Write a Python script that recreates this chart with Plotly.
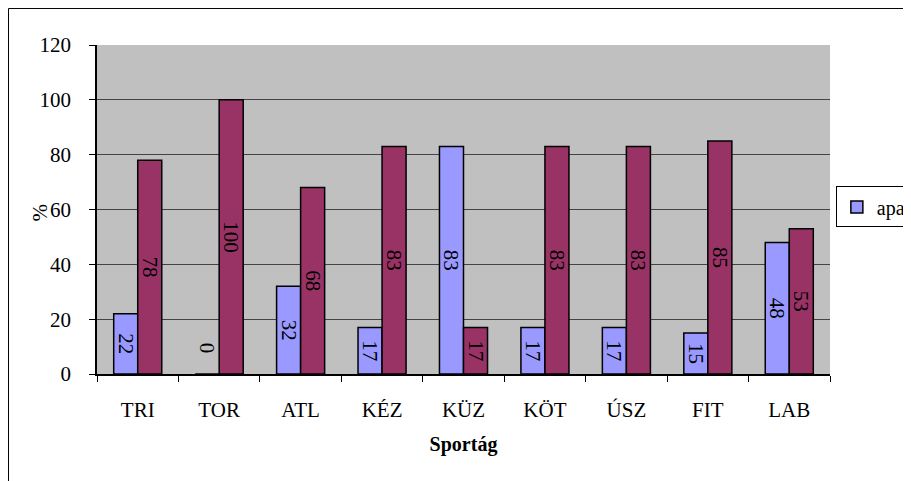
import plotly.graph_objects as go

# Sportágak és százalékok
sportagak = ["TRI", "TOR", "ATL", "KÉZ", "KÜZ", "KÖT", "ÚSZ", "FIT", "LAB"]
apa = [22, 0, 32, 17, 83, 17, 17, 15, 48]
anya = [78, 100, 68, 83, 17, 83, 83, 85, 53]
y_ticks = [0, 20, 40, 60, 80, 100, 120]

SERIF = "Liberation Serif"
FS = 21

fig = go.Figure()

fig.add_trace(
    go.Bar(
        x=sportagak,
        y=apa,
        name="apa",
        marker=dict(color="#9999FF", line=dict(color="black", width=1.5)),
        text=["" if v == 0 else str(v) for v in apa],
        textposition="inside",
        insidetextanchor="middle",
        textangle=90,
        textfont=dict(family=SERIF, size=FS, color="black"),
    )
)
fig.add_trace(
    go.Bar(
        x=sportagak,
        y=anya,
        name="anya",
        showlegend=False,
        marker=dict(color="#993366", line=dict(color="black", width=1.5)),
        text=[str(v) for v in anya],
        textposition="inside",
        insidetextanchor="middle",
        textangle=90,
        textfont=dict(family=SERIF, size=FS, color="black"),
    )
)

# nulla értékű oszlop felirata
for kat, v in zip(sportagak, apa):
    if v == 0:
        fig.add_annotation(
            x=kat,
            y=v,
            xshift=-12,
            yshift=26,
            text=str(v),
            textangle=90,
            showarrow=False,
            font=dict(family=SERIF, size=FS, color="black"),
        )

# y tengely címe
fig.add_annotation(
    text="%",
    xref="paper",
    yref="paper",
    x=-0.078,
    y=0.49,
    xanchor="center",
    yanchor="middle",
    textangle=-90,
    showarrow=False,
    font=dict(family=SERIF, size=FS, color="black"),
)

# külső keret
fig.add_shape(
    type="rect",
    xref="paper",
    yref="paper",
    x0=-0.1207,
    x1=1.3,
    y0=-0.6,
    y1=1.111,
    line=dict(color="black", width=1),
    fillcolor="rgba(0,0,0,0)",
    layer="below",
)

fig.update_layout(
    width=903,
    height=473,
    margin=dict(l=89, r=81, t=37, b=107, autoexpand=False),
    paper_bgcolor="white",
    plot_bgcolor="#C0C0C0",
    barmode="group",
    bargap=0.41,
    bargroupgap=0,
    uniformtext=dict(minsize=FS, mode="show"),
    font=dict(family=SERIF, size=FS, color="black"),
    xaxis=dict(
        title=dict(text="<b>Sportág</b>", font=dict(size=20), standoff=16),
        tickson="boundaries",
        ticks="outside",
        ticklen=6,
        tickcolor="black",
        ticklabelstandoff=16,
        showline=True,
        linecolor="black",
        linewidth=1.5,
        tickfont=dict(size=FS),
    ),
    yaxis=dict(
        range=[0, 120],
        tickvals=y_ticks,
        ticks="outside",
        ticklen=6,
        tickcolor="black",
        ticklabelstandoff=14,
        showline=True,
        linecolor="black",
        linewidth=1.5,
        showgrid=True,
        gridcolor="#444444",
        gridwidth=1.2,
        zeroline=False,
        tickfont=dict(size=FS),
    ),
    legend=dict(
        x=1.008,
        y=0.57,
        xanchor="left",
        yanchor="top",
        bgcolor="white",
        bordercolor="black",
        borderwidth=1,
        font=dict(size=20),
        itemwidth=30,
    ),
)

fig.write_html("out.html")
